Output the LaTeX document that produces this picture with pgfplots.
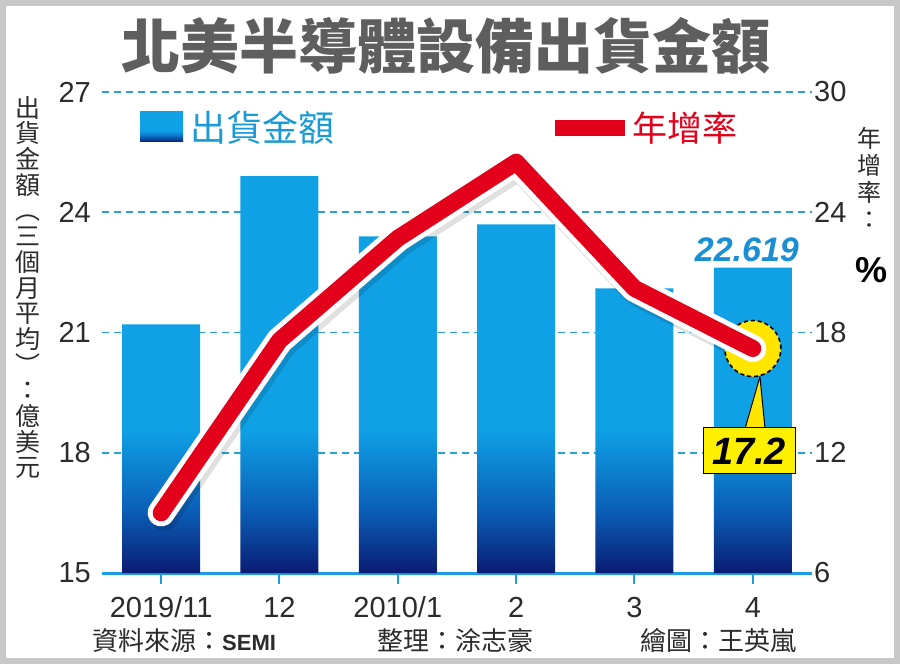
\documentclass[border=0pt]{standalone}
\usepackage{fontspec}
\setmainfont{Liberation Sans}
\newfontfamily\cjk{Noto Sans CJK TC}
\usepackage{pgfplots}
\pgfplotsset{compat=1.18}
\definecolor{barblue}{HTML}{0FA0E6}
\definecolor{barmid}{HTML}{0B5FB8}
\definecolor{bardark}{HTML}{0A1C72}
\definecolor{gridblue}{HTML}{2C9FD8}
\definecolor{axblue}{HTML}{1C9EE0}
\definecolor{lineRed}{HTML}{E3001B}
\definecolor{legblue}{HTML}{1B9AD6}
\definecolor{ticktext}{HTML}{2B2B2B}
\definecolor{titlegray}{HTML}{5E5E5E}
\definecolor{framegray}{HTML}{C8C8C8}
\definecolor{hiyellow}{HTML}{FFE600}
\definecolor{boxyellow}{HTML}{FFF000}
\definecolor{valblue}{HTML}{1A8FD4}
\pgfdeclareverticalshading{barshade}{100bp}{color(0bp)=(bardark); color(25bp)=(bardark); color(33bp)=(barmid); color(43bp)=(barblue); color(100bp)=(barblue)}
\pgfplotsset{rightax/.style={
  at={(0,0)}, anchor=south west, scale only axis,
  width=710pt, height=481pt,
  xmin=-0.5, xmax=5.5, ymin=6, ymax=30,
  clip=false}}
\begin{document}
\begin{tikzpicture}[x=1pt,y=1pt]
\path[use as bounding box] (-102,-91) rectangle (798,573);
\fill[white] (-102,-91) rectangle (798,573);
\draw[framegray, line width=6pt] (-99,-88) rectangle (795,570);

\begin{axis}[
  at={(0,0)}, anchor=south west, scale only axis,
  width=710pt, height=481pt,
  xmin=-0.5, xmax=5.5, ymin=15, ymax=27,
  y coord trafo/.code={\pgfmathparse{#1-15}},
  y coord inv trafo/.code={\pgfmathparse{#1+15}},
  clip=false,
  axis x line*=bottom, axis y line*=left,
  x axis line style={draw=axblue, line width=3pt},
  y axis line style={draw=none},
  xtick={0,1,2,3,4,5},
  xticklabels={2019/11,12,2010/1,2,3,4},
  ytick={15,18,21,24,27},
  yticklabels={15,18,21,24,27},
  tick align=outside,
  major tick length=11pt,
  xtick style={draw=axblue, line width=2pt},
  ytick style={draw=none},
  ymajorgrids,
  major grid style={draw=gridblue, line width=1.6pt, dash pattern=on 7pt off 5pt},
  xticklabel style={font=\fontsize{29}{29}\selectfont, text=ticktext, anchor=base, inner sep=0pt, yshift=-34pt},
  yticklabel style={font=\fontsize{29}{29}\selectfont, text=ticktext, anchor=east, inner sep=0pt},
]
\addplot[ybar, bar width=78pt, bar shift=0pt, draw=none, shade, shading=barshade]
  coordinates {(0,21.2) (1,24.9) (2,23.4) (3,23.7) (4,22.1) (5,22.619)};
\node[anchor=south, inner sep=0pt, yshift=6pt, text=valblue, font=\bfseries\itshape\fontsize{34}{34}\selectfont] at (axis cs:4.95,22.619) {22.619};
\end{axis}

\begin{axis}[rightax,
  axis x line=none, axis y line*=right,
  y axis line style={draw=none},
  ytick={6,12,18,24,30},
  yticklabels={6,12,18,24,30},
  ytick style={draw=none},
  major tick length=0pt,
  yticklabel style={font=\fontsize{29}{29}\selectfont, text=ticktext, anchor=west, inner sep=0pt, xshift=2pt},
]
\addplot[draw=black, opacity=0.12, line width=28pt, line join=round, line cap=round, transform canvas={xshift=3pt,yshift=-4pt}]
  coordinates {(0,9.0) (1,17.6) (2,22.7) (3,26.5) (4,20.2) (5,17.2)};
\filldraw[fill=hiyellow, draw=black, line width=1pt] (axis cs:5.06,15.8) -- (axis cs:4.934,13.2) -- (axis cs:5.103,13.2) -- cycle;
\addplot[only marks, mark=*, mark size=28pt, mark options={fill=hiyellow, draw=black, line width=1.6pt, dash pattern=on 4pt off 3pt}]
  coordinates {(5,17.2)};
\end{axis}

\begin{axis}[rightax, hide axis]
\addplot[draw=white, line width=27pt, line join=round, line cap=round]
  coordinates {(0,9.0) (1,17.6) (2,22.7) (3,26.5) (4,20.2) (5,17.2)};
\addplot[draw=lineRed, line width=17pt, line join=round, line cap=round]
  coordinates {(0,9.0) (1,17.6) (2,22.7) (3,26.5) (4,20.2) (5,17.2)};
\node[fill=boxyellow, draw=black, line width=1pt, minimum width=92pt, minimum height=46pt, inner sep=0pt, font=\bfseries\itshape\fontsize{38}{38}\selectfont] at (axis cs:4.968,12.1) {17.2};
\end{axis}

% title
\node[font=\cjk\bfseries\fontsize{59}{59}\selectfont, text=titlegray, inner sep=0pt] at (344,527) {北美半導體設備出貨金額};
% legend
\shade[shading=barshade] (38,431) rectangle (81,461);
\node[anchor=west, inner sep=0pt, text=legblue, font=\cjk\fontsize{36}{36}\selectfont] at (88,445) {出貨金額};
\fill[lineRed] (453,437) rectangle (523,453);
\node[anchor=west, inner sep=0pt, text=lineRed, font=\cjk\fontsize{35}{35}\selectfont] at (530,445) {年增率};
% axis titles
\node[anchor=north, align=center, inner sep=0pt, text=ticktext, font=\cjk\fontsize{25}{25.7}\selectfont] at (-74,477) {出\\貨\\金\\額\\︵\\三\\個\\月\\平\\均\\︶\\：\\億\\美\\元};
\node[anchor=north, align=center, inner sep=0pt, text=ticktext, font=\cjk\fontsize{24}{27}\selectfont] at (767,446) {年\\增\\率\\：};
\node[inner sep=0pt, text=black, font=\bfseries\fontsize{36}{36}\selectfont] at (769,303) {\%};
% source line
\node[anchor=west, inner sep=0pt, text=ticktext, font=\cjk\fontsize{26}{26}\selectfont] at (-10,-68) {資料來源：{\fontspec{Liberation Sans}\bfseries\fontsize{22}{22}\selectfont SEMI}};
\node[anchor=west, inner sep=0pt, text=ticktext, font=\cjk\fontsize{26}{26}\selectfont] at (275,-68) {整理：涂志豪};
\node[anchor=west, inner sep=0pt, text=ticktext, font=\cjk\fontsize{26}{26}\selectfont] at (538,-68) {繪圖：王英嵐};
\end{tikzpicture}
\end{document}
